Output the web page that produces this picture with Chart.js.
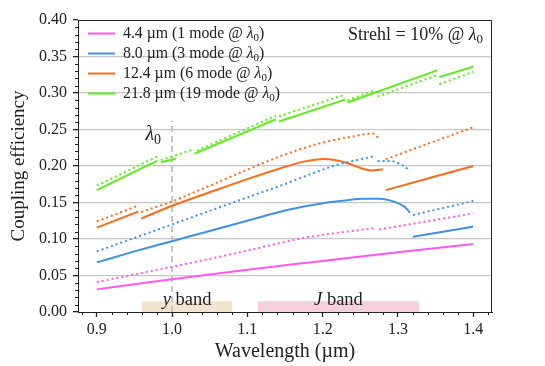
<!DOCTYPE html>
<html lang="en">
<head>
<meta charset="UTF-8">
<title>Coupling efficiency vs wavelength</title>
<script src="https://cdn.jsdelivr.net/npm/chart.js"></script>
<style>
    html, body { margin: 0; padding: 0; background: #fff; }
    #wrap { width: 545px; height: 366px; }
</style>
</head>
<body>
<div id="wrap"><canvas id="chart" width="545" height="366"></canvas></div>
<script>
// [wavelength (µm), coupling efficiency]; null marks a break between segments
const mfd44Solid = [[0.9,0.031],[0.95,0.038],[1.0,0.045],[1.1,0.058],[1.2,0.070],[1.3,0.082],[1.4,0.093]];
const mfd44Dotted = [[0.9,0.041],[1.0,0.062],[1.1,0.084],[1.175,0.1015],[1.27,0.115],null,[1.275,0.113],[1.4,0.135]];

const mfd80Solid = [[0.9,0.068],[0.95,0.083],[1.0,0.097],[1.05,0.111],[1.1,0.125],[1.15,0.139],[1.2,0.149],
    [1.224,0.152],[1.255,0.155],[1.275,0.155],[1.295,0.151],[1.309,0.144],[1.316,0.136],null,[1.32,0.103],[1.4,0.117]];
const mfd80Dotted = [[0.9,0.083],[1.0,0.120],[1.1,0.157],[1.144,0.173],[1.2,0.195],[1.224,0.203],[1.25,0.209],[1.267,0.213],null,
    [1.273,0.207],[1.29,0.207],[1.304,0.202],[1.313,0.196],[1.316,0.193],null,[1.32,0.133],[1.4,0.152]];

const mfd124Solid = [[0.9,0.1155],[0.955,0.1375],null,[0.959,0.128],[1.0,0.1455],[1.05,0.164],[1.1,0.182],[1.144,0.197],
    [1.175,0.206],[1.202,0.2095],[1.224,0.2066],[1.238,0.202],[1.251,0.197],[1.264,0.194],[1.28,0.1955],null,[1.284,0.167],[1.4,0.200]];
const mfd124Dotted = [[0.9,0.124],[0.953,0.145],null,[0.959,0.137],[1.0,0.1515],[1.05,0.173],[1.1,0.195],[1.144,0.2135],
    [1.2,0.232],[1.233,0.239],[1.267,0.2445],[1.275,0.237],null,[1.284,0.2095],[1.4,0.253]];

const mfd218Solid = [[0.9,0.167],[0.98,0.207],null,[0.985,0.205],[1.005,0.210],null,[1.03,0.217],[1.138,0.264],null,
    [1.142,0.261],[1.23,0.291],null,[1.233,0.287],[1.352,0.331],null,[1.355,0.322],[1.4,0.336]];
const mfd218Dotted = [[0.9,0.173],[0.98,0.213],null,[0.985,0.208],[1.026,0.222],null,[1.033,0.221],[1.138,0.269],null,
    [1.142,0.268],[1.23,0.298],null,[1.233,0.290],[1.267,0.303],null,[1.273,0.295],[1.351,0.324],null,[1.355,0.312],[1.4,0.329]];

const seriesNames = ['4.4 µm (1 mode @ λ₀)', '8.0 µm (3 mode @ λ₀)', '12.4 µm (6 mode @ λ₀)', '21.8 µm (19 mode @ λ₀)'];
const seriesColors = ['#ff57f0', '#4090e8', '#ff6b17', '#5ced1a'];

const xTicks = [0.9, 1.0, 1.1, 1.2, 1.3, 1.4];
const yTicks = [0, 0.05, 0.10, 0.15, 0.20, 0.25, 0.30, 0.35, 0.40];

const lambda0 = 1.0;
const lambda0Top = 0.262;
const bandRanges = [[0.96, 1.08], [1.114, 1.328]];
const bandHeight = 0.0148;
const bandNames = ['y band', 'J band'];
const bandColors = ['rgba(232,212,175,0.6)', 'rgba(238,176,197,0.6)'];
const strehlNote = 'Strehl = 10% @ λ₀';

const SERIF = '"Liberation Serif", "DejaVu Serif", serif';
const INK = '#222';

function toPoints(arr) {
    return arr.map((p, i) => p ? { x: p[0], y: p[1] } : { x: arr[i - 1][0], y: null });
}

function lineSet(arr, color, dotted) {
    return {
        data: toPoints(arr),
        borderColor: color,
        borderWidth: 2,
        borderDash: dotted ? [2, 3] : [],
        cubicInterpolationMode: 'monotone',
        spanGaps: false,
        pointRadius: 0,
        fill: false
    };
}

// split text so that λ₀ is drawn as italic lambda with a subscript zero
function richParts(text, size, italicFirst) {
    const parts = [];
    const idx = text.indexOf('λ₀');
    let body = idx < 0 ? text : text.slice(0, idx);
    if (italicFirst) {
        const sp = body.indexOf(' ');
        parts.push({ t: body.slice(0, sp), f: `italic ${size}px ${SERIF}`, dy: 0 });
        body = body.slice(sp);
    }
    parts.push({ t: body, f: `${size}px ${SERIF}`, dy: 0 });
    if (idx >= 0) {
        parts.push({ t: 'λ', f: `italic ${size}px ${SERIF}`, dy: 0 });
        parts.push({ t: '0', f: `${Math.round(size * 0.7)}px ${SERIF}`, dy: size * 0.28 });
        parts.push({ t: text.slice(idx + 2), f: `${size}px ${SERIF}`, dy: 0 });
    }
    return parts;
}

function drawRich(ctx, text, x, y, size, align, italicFirst) {
    const parts = richParts(text, size, italicFirst);
    let total = 0;
    parts.forEach(p => { ctx.font = p.f; p.w = ctx.measureText(p.t).width; total += p.w; });
    let cx = align === 'right' ? x - total : align === 'center' ? x - total / 2 : x;
    ctx.textAlign = 'left';
    ctx.textBaseline = 'middle';
    parts.forEach(p => { ctx.font = p.f; ctx.fillText(p.t, cx, y + p.dy); cx += p.w; });
}

const decorPlugin = {
    id: 'decor',
    beforeDatasetsDraw(chart) {
        const { ctx, scales: { x, y } } = chart;
        ctx.save();
        bandRanges.forEach((b, i) => {
            ctx.fillStyle = bandColors[i];
            const x0 = x.getPixelForValue(b[0]), x1 = x.getPixelForValue(b[1]);
            const y0 = y.getPixelForValue(bandHeight), y1 = y.getPixelForValue(0);
            ctx.fillRect(x0, y0, x1 - x0, y1 - y0);
        });
        ctx.restore();
    },
    afterDraw(chart) {
        const { ctx, chartArea: a, scales: { x, y } } = chart;
        ctx.save();
        ctx.fillStyle = INK;

        // top and right frame
        ctx.strokeStyle = INK;
        ctx.lineWidth = 1;
        ctx.beginPath();
        ctx.moveTo(a.left, a.top + 0.5); ctx.lineTo(a.right - 0.5, a.top + 0.5); ctx.lineTo(a.right - 0.5, a.bottom);
        ctx.stroke();

        // minor ticks
        ctx.lineWidth = 1;
        ctx.beginPath();
        for (let i = 44; i <= 71; i++) {
            if (i % 5 === 0) continue;
            const px = Math.round(x.getPixelForValue(i / 50)) + 0.5;
            ctx.moveTo(px, a.bottom); ctx.lineTo(px, a.bottom + 3);
        }
        for (let j = 1; j < 40; j++) {
            if (j % 5 === 0) continue;
            const py = Math.round(y.getPixelForValue(j / 100)) + 0.5;
            ctx.moveTo(a.left - 3, py); ctx.lineTo(a.left, py);
        }
        ctx.stroke();

        // band labels
        bandRanges.forEach((b, i) => {
            drawRich(ctx, bandNames[i], x.getPixelForValue((b[0] + b[1]) / 2), y.getPixelForValue(0.0165), 18.5, 'center', true);
        });

        // lambda0 label
        drawRich(ctx, 'λ₀', x.getPixelForValue(0.975), y.getPixelForValue(0.243), 20, 'center');

        // Strehl note
        drawRich(ctx, strehlNote, a.right - 9, a.top + 15, 18, 'right');

        // legend
        seriesNames.forEach((name, i) => {
            const ly = a.top + 13.5 + 20 * i;
            ctx.strokeStyle = seriesColors[i];
            ctx.lineWidth = 2;
            ctx.beginPath();
            ctx.moveTo(a.left + 10, ly); ctx.lineTo(a.left + 37, ly);
            ctx.stroke();
            ctx.fillStyle = INK;
            drawRich(ctx, name, a.left + 45, ly, 15.8, 'left');
        });
        ctx.restore();
    }
};

const datasets = [
    lineSet(mfd44Solid, seriesColors[0], false),
    lineSet(mfd44Dotted, seriesColors[0], true),
    lineSet(mfd80Solid, seriesColors[1], false),
    lineSet(mfd80Dotted, seriesColors[1], true),
    lineSet(mfd124Solid, seriesColors[2], false),
    lineSet(mfd124Dotted, seriesColors[2], true),
    lineSet(mfd218Solid, seriesColors[3], false),
    lineSet(mfd218Dotted, seriesColors[3], true),
    {
        data: [{ x: lambda0, y: 0 }, { x: lambda0, y: lambda0Top }],
        borderColor: '#b4b4b4',
        borderWidth: 1.5,
        borderDash: [6, 4],
        pointRadius: 0,
        order: 20
    }
];

new Chart(document.getElementById('chart'), {
    type: 'line',
    data: { datasets },
    options: {
        responsive: false,
        animation: false,
        devicePixelRatio: 1,
        layout: { padding: { left: 0, right: 53, top: 20, bottom: 0 } },
        plugins: { legend: { display: false }, tooltip: { enabled: false } },
        scales: {
            x: {
                type: 'linear',
                min: 0.875,
                max: 1.425,
                afterBuildTicks: s => { s.ticks = xTicks.map(v => ({ value: v })); },
                afterFit: s => { s.height = 54; },
                ticks: {
                    callback: v => v.toFixed(1),
                    font: { family: SERIF, size: 16 },
                    color: INK,
                    padding: 3,
                    maxRotation: 0,
                    autoSkip: false
                },
                grid: { drawOnChartArea: false, drawTicks: true, tickLength: 5, tickColor: INK, tickWidth: 1.3 },
                border: { display: true, color: INK, width: 1 },
                title: {
                    display: true,
                    text: 'Wavelength (µm)',
                    font: { family: SERIF, size: 20 },
                    color: INK,
                    padding: { top: 0, bottom: 2 }
                }
            },
            y: {
                type: 'linear',
                min: 0,
                max: 0.4,
                afterBuildTicks: s => { s.ticks = yTicks.map(v => ({ value: v })); },
                afterFit: s => { s.width = 78; },
                ticks: {
                    callback: v => v.toFixed(2),
                    font: { family: SERIF, size: 16 },
                    color: INK,
                    padding: 6,
                    autoSkip: false
                },
                grid: {
                    color: c => (c.tick && (c.tick.value === 0 || c.tick.value === 0.4)) ? 'rgba(0,0,0,0)' : '#c8c8c8',
                    lineWidth: 1.3,
                    tickLength: 5,
                    tickColor: INK,
                    tickWidth: 1.3
                },
                border: { display: true, color: INK, width: 1 },
                title: {
                    display: true,
                    text: 'Coupling efficiency',
                    font: { family: SERIF, size: 19 },
                    color: INK,
                    padding: { top: 8, bottom: 0 }
                }
            }
        }
    },
    plugins: [decorPlugin]
});
</script>
</body>
</html>
